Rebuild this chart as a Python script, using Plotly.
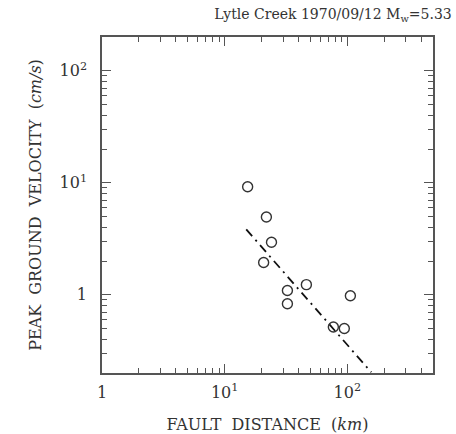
import plotly.graph_objects as go

# Recorded peak ground velocities (cm/s) against fault distance (km)
fault_distance = [15.4, 21.9, 24.1, 20.8, 32.5, 32.5, 46.4, 77, 94.6, 106]
peak_velocity = [9.2, 4.94, 2.94, 1.94, 1.09, 0.83, 1.23, 0.515, 0.50, 0.98]

# Attenuation relation end points
fit_distance = [15.0, 157.0]
fit_velocity = [3.83, 0.203]

major_vals = [1, 10, 100]
major_text = ["1", "10<sup>1</sup>", "10<sup>2</sup>"]
minor_x = [m * d for d in (1, 10, 100) for m in range(2, 10) if m * d < 500]
minor_y = [m * d for d in (0.1, 1, 10, 100) for m in range(2, 10) if 0.2 <= m * d <= 200]

ink = "#333333"
frame = "#555555"
serif = "DejaVu Serif, Liberation Serif, serif"

fig = go.Figure()
fig.add_trace(go.Scatter(
    x=fit_distance, y=fit_velocity, mode="lines",
    line=dict(color="#111111", width=1.8, dash="9px,5px,2px,5px"),
    showlegend=False,
))
fig.add_trace(go.Scatter(
    x=fault_distance, y=peak_velocity, mode="markers",
    marker=dict(symbol="circle-open", size=10, color=ink, line=dict(width=1.4, color=ink)),
    showlegend=False,
))

axis_common = dict(
    type="log", showgrid=False, zeroline=False, automargin=False,
    showline=True, linecolor=frame, linewidth=1.5, mirror="ticks",
    ticks="inside", ticklen=9, tickwidth=1.2, tickcolor=frame,
    tickmode="array", tickvals=major_vals, ticktext=major_text,
    tickfont=dict(family=serif, size=16, color=ink),
)

fig.update_xaxes(
    **axis_common, range=[0, 2.699], ticklabelstandoff=4,
    minor=dict(tickmode="array", tickvals=minor_x, ticks="inside", ticklen=5,
               tickwidth=1.1, tickcolor=frame),
    title=dict(text="FAULT&nbsp; DISTANCE&nbsp; (<i>km</i>)",
               font=dict(family=serif, size=16, color=ink), standoff=22),
)
fig.update_yaxes(
    **axis_common, range=[-0.699, 2.301], ticklabelstandoff=10,
    minor=dict(tickmode="array", tickvals=minor_y, ticks="inside", ticklen=5,
               tickwidth=1.1, tickcolor=frame),
    title=dict(text="PEAK&nbsp; GROUND&nbsp; VELOCITY&nbsp; (<i>cm/s</i>)",
               font=dict(family=serif, size=16, color=ink), standoff=14),
)

fig.update_layout(
    width=456, height=434,
    margin=dict(l=102, r=23, t=37, b=61),
    paper_bgcolor="white", plot_bgcolor="white",
    title=dict(text="Lytle Creek 1970/09/12 M<sub>w</sub>=5.33",
               font=dict(family=serif, size=14, color=ink),
               x=333 / 456, xref="container", xanchor="center",
               y=1 - 14 / 434, yref="container", yanchor="middle"),
)

fig.write_html("out.html")
